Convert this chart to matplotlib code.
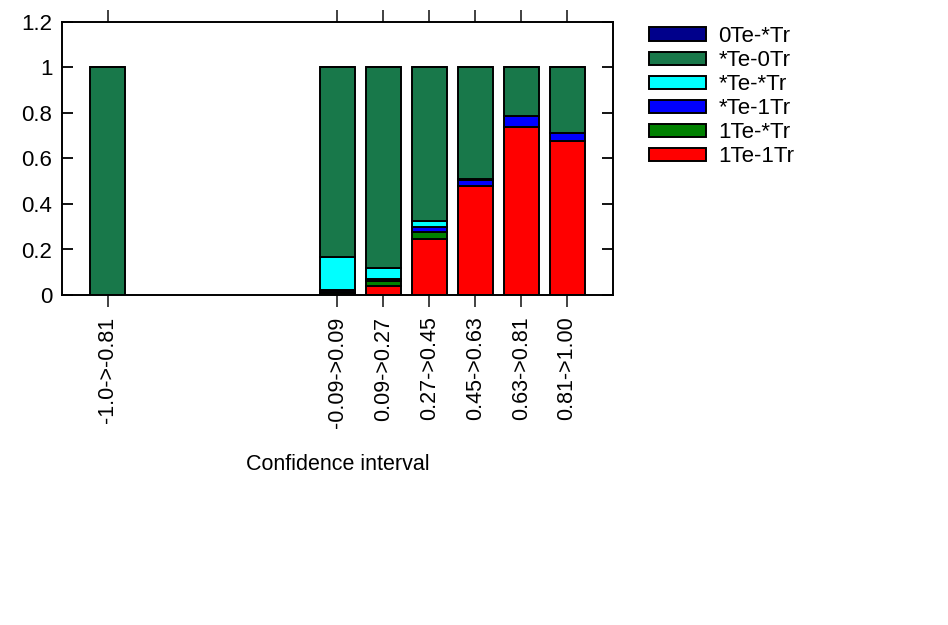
import matplotlib
matplotlib.use('Agg')
import matplotlib.pyplot as plt
import numpy as np

plt.rcParams['font.family'] = ['Liberation Sans', 'DejaVu Sans']

# bin index along the confidence axis (empty bins 1-4 are not shown)
bins = [0, 5, 6, 7, 8, 9, 10]
labels = ['-1.0->-0.81', '-0.09->0.09', '0.09->0.27', '0.27->0.45',
          '0.45->0.63', '0.63->0.81', '0.81->1.00']

# stacked fractions, bottom to top
te1_tr1 = [0.0, 0.005, 0.040, 0.248, 0.480, 0.737, 0.677]
te1_trs = [0.0, 0.010, 0.022, 0.028, 0.000, 0.000, 0.000]
tes_tr1 = [0.0, 0.005, 0.010, 0.024, 0.025, 0.050, 0.034]
tes_trs = [0.0, 0.145, 0.045, 0.027, 0.005, 0.000, 0.000]
tes_tr0 = [1.0, 0.835, 0.883, 0.673, 0.490, 0.213, 0.289]
te0_trs = [0.0, 0.000, 0.000, 0.000, 0.000, 0.000, 0.000]

series = [
    ('1Te-1Tr', te1_tr1, '#ff0000'),
    ('1Te-*Tr', te1_trs, '#008000'),
    ('*Te-1Tr', tes_tr1, '#0000ff'),
    ('*Te-*Tr', tes_trs, '#00ffff'),
    ('*Te-0Tr', tes_tr0, '#18784a'),
    ('0Te-*Tr', te0_trs, '#00008b'),
]

fig = plt.figure(figsize=(9.48, 6.25), dpi=100)
ax = fig.add_axes([62/948, 1-295/625, (613-62)/948, (295-22)/625])

bottom = np.zeros(len(bins))
handles = []
for name, vals, col in series:
    h = ax.bar(bins, vals, width=0.76, bottom=bottom, color=col,
               edgecolor='black', linewidth=1.4, label=name)
    handles.append(h)
    bottom += np.array(vals)

ax.set_xlim(-1, 11)
ax.set_ylim(0, 1.2)
ax.set_yticks([0, 0.2, 0.4, 0.6, 0.8, 1.0, 1.2])
ax.set_yticklabels(['0', '0.2', '0.4', '0.6', '0.8', '1', '1.2'])
ax.set_xticks(bins)
ax.set_xticklabels(labels, rotation=90)
ax.tick_params(axis='x', direction='out', length=8.5, width=1.3, top=True,
               labelsize=15.5, pad=7, color='#333333')
ax.tick_params(axis='y', direction='in', length=8, width=1.3, right=True,
               labelsize=16, pad=7)
for s in ax.spines.values():
    s.set_linewidth(1.4)
ax.set_xlabel('Confidence interval', fontsize=15.5, labelpad=19)

fig.legend(handles[::-1], [s[0] for s in series][::-1],
           loc='upper left', bbox_to_anchor=(640/948, 1-17/625),
           frameon=False, fontsize=16, handlelength=2.57, handleheight=0.54,
           labelspacing=0.14, handletextpad=0.55, borderaxespad=0)

fig.savefig('out.png', dpi=100)
